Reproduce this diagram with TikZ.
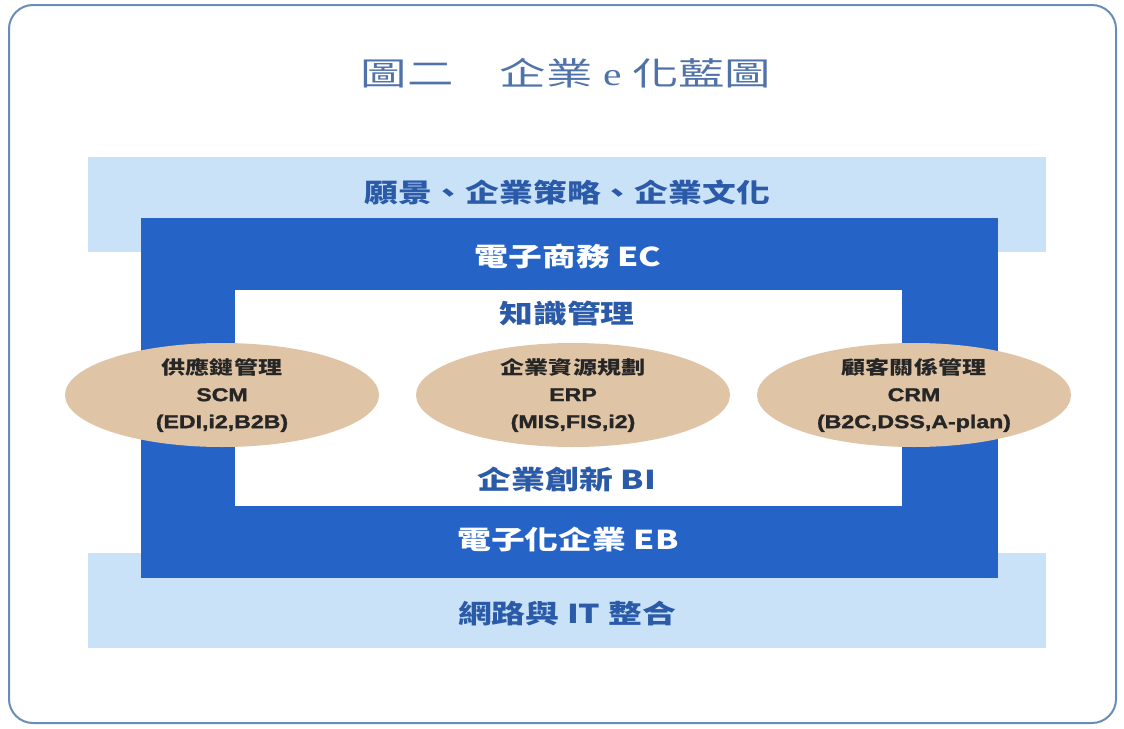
\documentclass[tikz,border=0pt]{standalone}
\usepackage{fontspec}
\usetikzlibrary{shapes.geometric}
\newfontfamily\cjk[FakeStretch=1.3]{Noto Sans CJK TC}
\newfontfamily\cjktitle[FakeStretch=1.45]{Noto Sans CJK TC}
\newfontfamily\latinserif[FakeStretch=1.3]{Liberation Serif}
\newfontfamily\latinsans[FakeStretch=1.25, FakeBold=1.5]{Liberation Sans}
\definecolor{framec}{HTML}{6A8CB8}
\definecolor{lightband}{HTML}{C9E2F8}
\definecolor{darkblue}{HTML}{2563C7}
\definecolor{tan}{HTML}{E0C4A6}
\definecolor{bluetext}{HTML}{2A5AA8}
\definecolor{titlec}{HTML}{4F72A8}
\definecolor{darktext}{HTML}{262626}
\newcommand{\lat}[1]{{\latinsans #1}}
\tikzset{
  panel/.style={inner sep=0pt, outer sep=0pt},
  oval/.style={ellipse, fill=tan, inner sep=0pt, minimum width=314pt, minimum height=104pt},
  bandtext/.style={text=bluetext, font=\cjk\bfseries\fontsize{26}{30}\selectfont, inner sep=0pt},
  whitetext/.style={text=white, font=\cjk\bfseries\fontsize{26}{30}\selectfont, inner sep=0pt},
  ovaltext/.style={text=darktext, align=center, font=\cjk\bfseries\fontsize{18.5}{27}\selectfont, inner sep=0pt}
}
\begin{document}
\begin{tikzpicture}[x=1pt,y=-1pt]
\useasboundingbox (0,0) rectangle (1124,728);
% outer frame
\draw[framec, line width=2pt, rounded corners=24pt] (9,5) rectangle (1116,723);
% title
\node[text=titlec, font=\cjktitle\fontsize{32}{36}\selectfont, inner sep=0pt] (title) at (566,73) {圖二　企業 {\latinserif e} 化藍圖};
% bands
\node[panel, fill=lightband, minimum width=958pt, minimum height=95pt] (topband) at (567,204.5) {};
\node[panel, fill=lightband, minimum width=958pt, minimum height=95pt] (botband) at (567,600.5) {};
\node[panel, fill=darkblue, minimum width=857pt, minimum height=360pt] (ebox) at (569.5,398) {};
\node[panel, fill=white, minimum width=667pt, minimum height=216pt] (inner) at (568.5,398) {};
% ellipses
\node[oval] (scm) at (222,395) {};
\node[oval] (erp) at (573,395) {};
\node[oval] (crm) at (914,395) {};
% texts
\node[bandtext] (vision) at (567,192) {願景、企業策略、企業文化};
\node[whitetext] (ec) at (568,256) {電子商務 EC};
\node[bandtext] (km) at (567,314) {知識管理};
\node[bandtext] (bi) at (567,479) {企業創新 BI};
\node[whitetext] (eb) at (568,539) {電子化企業 EB};
\node[bandtext] (net) at (567,614) {網路與 IT 整合};
\node[ovaltext] (scmt) at (scm.center) {供應鏈管理\\\lat{SCM}\\\lat{(EDI,i2,B2B)}};
\node[ovaltext] (erpt) at (erp.center) {企業資源規劃\\\lat{ERP}\\\lat{(MIS,FIS,i2)}};
\node[ovaltext] (crmt) at (crm.center) {顧客關係管理\\\lat{CRM}\\\lat{(B2C,DSS,A-plan)}};
\end{tikzpicture}
\end{document}
